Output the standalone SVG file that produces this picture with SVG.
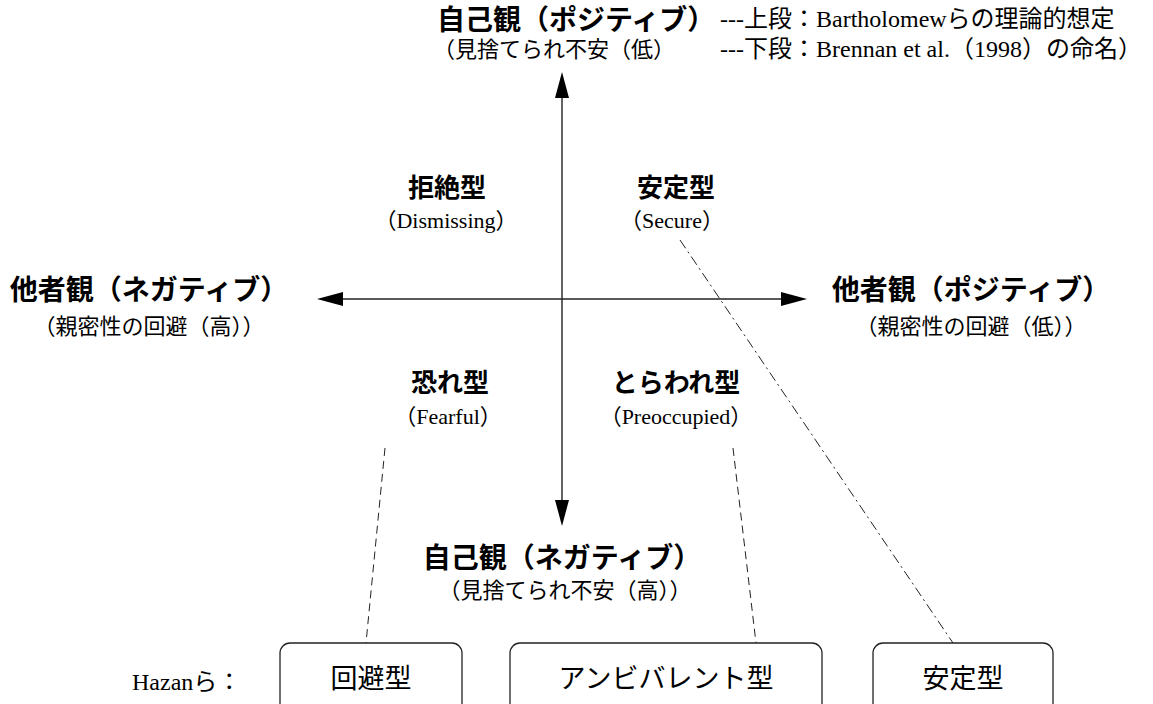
<svg xmlns="http://www.w3.org/2000/svg" width="1153" height="704" viewBox="0 0 1153 704">
<defs>
<style>
.h{font-family:"Noto Sans CJK JP","Noto Sans",sans-serif;font-weight:700;font-size:28px;fill:#000}
.q{font-family:"Noto Sans CJK JP","Noto Sans",sans-serif;font-weight:700;font-size:26px;fill:#000}
.s{font-family:"Liberation Serif","Noto Sans CJK JP",serif;font-size:22px;fill:#000}
.l{font-family:"Liberation Serif","Noto Sans CJK JP",serif;font-size:24px;fill:#000}
.b{font-family:"Noto Sans CJK JP","Noto Sans",sans-serif;font-weight:400;font-size:27px;fill:#000}
.ax{stroke:#222;stroke-width:1.4;fill:none}
.dash{stroke:#222;stroke-width:1;fill:none;stroke-dasharray:8 5}
.dd{stroke:#222;stroke-width:1;fill:none;stroke-dasharray:10 4 2 4}
.box{fill:#fff;stroke:#222;stroke-width:1.3}
</style>
</defs>
<g id="connectors">
<line class="ax" x1="562" y1="90" x2="562" y2="510"/>
<line class="ax" x1="335" y1="299" x2="790" y2="299"/>
<polygon points="562,72 555,98 569,98" fill="#000"/>
<polygon points="562,526 555,500 569,500" fill="#000"/>
<polygon points="317,299 343,292 343,306" fill="#000"/>
<polygon points="807,299 781,292 781,306" fill="#000"/>
<line class="dash" x1="385" y1="448" x2="366" y2="643"/>
<line class="dash" x1="733" y1="448" x2="756" y2="643"/>
<line class="dd" x1="680" y1="240" x2="953" y2="643"/>
</g>
<g id="top-label">
<text class="h" x="437" y="30">自己観（ポジティブ）</text>
<text class="s" x="433" y="57">（見捨てられ不安（低）</text>
</g>
<g id="legend">
<text class="l" x="720" y="27">---上段：Bartholomewらの理論的想定</text>
<text class="l" x="720" y="57">---下段：Brennan et al.（1998）の命名）</text>
</g>
<g id="left-label">
<text class="h" x="149" y="300" text-anchor="middle">他者観（ネガティブ）</text>
<text class="s" x="149" y="334" text-anchor="middle">（親密性の回避（高））</text>
</g>
<g id="right-label">
<text class="h" x="971" y="300" text-anchor="middle">他者観（ポジティブ）</text>
<text class="s" x="971" y="334" text-anchor="middle">（親密性の回避（低））</text>
</g>
<g id="bottom-label">
<text class="h" x="562" y="568" text-anchor="middle">自己観（ネガティブ）</text>
<text class="s" x="565" y="598" text-anchor="middle">（見捨てられ不安（高））</text>
</g>
<g id="dismissing">
<text class="q" x="447" y="197" text-anchor="middle">拒絶型</text>
<text class="s" x="446" y="228" text-anchor="middle">（Dismissing）</text>
</g>
<g id="secure">
<text class="q" x="676" y="197" text-anchor="middle">安定型</text>
<text class="s" x="672" y="228" text-anchor="middle">（Secure）</text>
</g>
<g id="fearful">
<text class="q" x="450" y="392" text-anchor="middle">恐れ型</text>
<text class="s" x="448" y="424" text-anchor="middle">（Fearful）</text>
</g>
<g id="preoccupied">
<text class="q" x="676" y="392" text-anchor="middle">とらわれ型</text>
<text class="s" x="676" y="424" text-anchor="middle">（Preoccupied）</text>
</g>
<g id="hazan-label">
<text class="l" x="132" y="690">Hazanら：</text>
</g>
<g id="box-avoidant">
<rect class="box" x="280" y="643" width="182" height="80" rx="10"/>
<text class="b" x="371" y="688" text-anchor="middle">回避型</text>
</g>
<g id="box-ambivalent">
<rect class="box" x="510" y="643" width="312" height="80" rx="10"/>
<text class="b" x="666" y="688" text-anchor="middle">アンビバレント型</text>
</g>
<g id="box-secure">
<rect class="box" x="873" y="643" width="180" height="80" rx="10"/>
<text class="b" x="963" y="688" text-anchor="middle">安定型</text>
</g>
</svg>
